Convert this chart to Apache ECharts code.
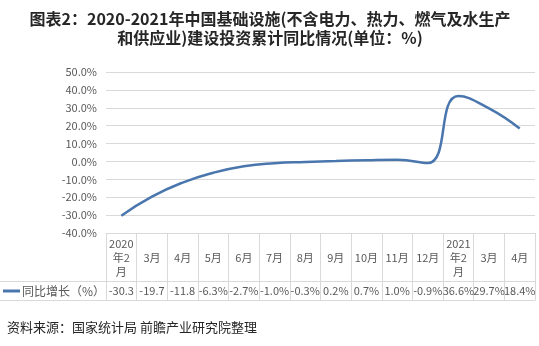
<!DOCTYPE html>
<html>
<head>
<meta charset="utf-8">
<script src="https://cdn.jsdelivr.net/npm/echarts@6/dist/echarts.min.js"></script>
<style>
html,body{margin:0;padding:0;background:#fff;}
#chart{width:539px;height:346px;}
</style>
</head>
<body>
<div id="chart"></div>
<script>
var categories = ['2020\n年2\n月','3月','4月','5月','6月','7月','8月','9月','10月','11月','12月','2021\n年2\n月','3月','4月'];
var seriesName = '同比增长（%）';
var values = [-30.3, -19.7, -11.8, -6.3, -2.7, -1.0, -0.3, 0.2, 0.7, 1.0, -0.9, 36.6, 29.7, 18.4];
var yMin = -40, yMax = 50, yStep = 10;
var titleText = '图表2：2020-2021年中国基础设施(不含电力、热力、燃气及水生产\n和供应业)建设投资累计同比情况(单位：%)';
var sourceText = '资料来源：国家统计局 前瞻产业研究院整理';

var FONT = '"Noto Sans CJK SC", "Noto Sans", sans-serif';
var GRID = '#d9d9d9';
var TXT = '#595959';

function tableLabel(v){
  var s = v.toFixed(1);
  // long negative values overflow the cell in the reference, so the % is cut
  return (v <= -10) ? s : s + '%';
}

var chart = echarts.init(document.getElementById('chart'));
chart.setOption({
  backgroundColor: '#fff',
  animation: false,
  textStyle: {fontFamily: FONT},
  legend: {
    left: 3, top: 285, padding: 0,
    icon: 'rect', itemWidth: 17, itemHeight: 3, itemGap: 2,
    textStyle: {fontFamily: FONT, fontSize: 12, color: TXT, padding: [0,0,0,-3]},
    data: [seriesName]
  },
  grid: {left: 106, right: 4, top: 72, bottom: 113},
  xAxis: [{
    type: 'category',
    data: categories,
    boundaryGap: true,
    position: 'bottom',
    axisLine: {show: true, onZero: false, lineStyle: {color: GRID, width: 1}},
    axisTick: {show: true, interval: 0, length: 67, lineStyle: {color: GRID}},
    axisLabel: {interval: 0, fontFamily: FONT, fontSize: 11, lineHeight: 14, color: TXT, margin: 25, verticalAlign: 'middle'}
  }, {
    type: 'category',
    data: values.map(tableLabel),
    boundaryGap: true,
    position: 'bottom',
    offset: 48,
    axisLine: {show: true, onZero: false, lineStyle: {color: GRID, width: 1}},
    axisTick: {show: false},
    axisLabel: {interval: 0, fontFamily: FONT, fontSize: 11, color: TXT, margin: 10, verticalAlign: 'middle'}
  }, {
    type: 'category',
    data: categories,
    boundaryGap: true,
    position: 'bottom',
    offset: 67,
    axisLine: {show: true, onZero: false, lineStyle: {color: GRID, width: 1}},
    axisTick: {show: false},
    axisLabel: {show: false}
  }],
  yAxis: {
    type: 'value',
    min: yMin, max: yMax, interval: yStep,
    axisLine: {show: false},
    axisTick: {show: false},
    splitLine: {lineStyle: {color: GRID, width: 1}},
    axisLabel: {fontFamily: FONT, fontSize: 11, color: TXT, margin: 9, formatter: function(v){ return v.toFixed(1) + '%'; }}
  },
  series: [{
    name: seriesName,
    type: 'line',
    xAxisIndex: 0,
    data: values,
    smooth: 0.5,
    symbol: 'none',
    lineStyle: {color: '#4A76AE', width: 2.5},
    itemStyle: {color: '#4A76AE'}
  }],
  graphic: [
    {type: 'text', x: 270, y: 9, style: {text: titleText, align: 'center', fontFamily: FONT, fontSize: 16, fontWeight: 'bold', fill: '#262626', lineHeight: 19}},
    {type: 'line', shape: {x1: 0, y1: 281.5, x2: 106, y2: 281.5}, style: {stroke: GRID, lineWidth: 1}},
    {type: 'line', shape: {x1: 0, y1: 300.5, x2: 106, y2: 300.5}, style: {stroke: GRID, lineWidth: 1}},
    {type: 'text', left: 7, top: 321, style: {text: sourceText, fontFamily: FONT, fontSize: 13, fill: '#262626'}}
  ]
});
</script>
</body>
</html>
